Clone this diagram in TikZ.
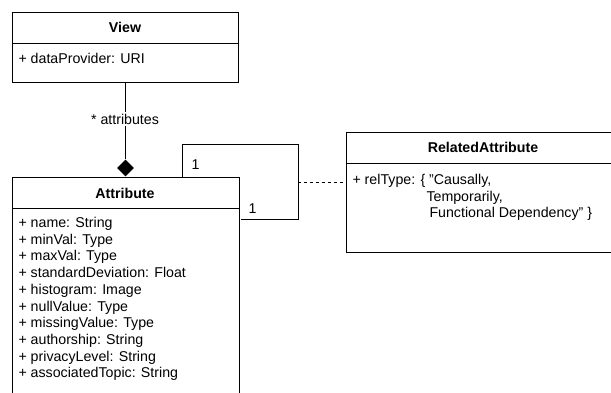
\documentclass[tikz,border=0pt]{standalone}
\usepackage{fontspec}
\setmainfont{Liberation Sans}
\usetikzlibrary{shapes.geometric}
\begin{document}
\begin{tikzpicture}[x=1pt,y=-1pt,
  line width=1pt,
  every node/.style={font=\fontsize{14.2}{16.7}\selectfont, inner sep=0pt},
  boxarea/.style={draw=none, anchor=north west, inner sep=0pt},
  txt/.style={anchor=base west},
  ttl/.style={anchor=base, font=\fontsize{14.2}{16.7}\selectfont\bfseries},
  assoc/.style={draw=black, line width=1pt},
  dep/.style={draw=black, line width=1pt, dash pattern=on 3pt off 3pt}
]
\useasboundingbox[fill=white] (0,0) rectangle (611,392);

% View class
\node[boxarea, draw, minimum width=226pt, minimum height=70pt] (view) at (12,12) {};
\draw ([yshift=-31pt]view.north west) -- ([yshift=-31pt]view.north east);
\node[ttl] (viewT) at (125,32) {View};
\node[txt] (viewA) at (18,63) {+ dataProvider: URI};

% Attribute class
\node[boxarea, minimum width=226pt, minimum height=225pt] (attr) at (12,177) {};
\draw (attr.south west) -- (attr.north west) -- (attr.north east) -- (attr.south east);
\draw ([yshift=-31pt]attr.north west) -- ([yshift=-31pt]attr.north east);
\node[ttl] (attrT) at (125,198) {Attribute};
\foreach \t [count=\i] in {name: String, minVal: Type, maxVal: Type, standardDeviation: Float, histogram: Image, nullValue: Type, missingValue: Type, authorship: String, privacyLevel: String, associatedTopic: String}
  \node[txt] (a\i) at (18,{227.5+(\i-1)*16.7}) {+ \t};

% Composition View -> Attribute
\node[diamond, fill=black, draw=none, inner sep=0pt, minimum width=17pt, minimum height=17pt, anchor=south] (dia) at (attr.north) {};
\draw[assoc] (view.south) -- (dia.north);
\node[fill=white, inner sep=2pt, anchor=base] (lab) at (125,124) {* attributes};

% Self association
\coordinate (l1) at (182,144);
\coordinate (l2) at (298,144);
\coordinate (l3) at (298,219);
\coordinate (lm) at (298,182);
\draw[assoc] (attr.north -| l1) -- (l1) -- (l2) -- (l3) -- ([xshift=2pt]attr.east |- l3);
\node[txt] (m1) at (191,169) {1};
\node[txt] (m2) at (248,213) {1};

% RelatedAttribute class
\node[boxarea, minimum width=274pt, minimum height=119pt] (rel) at (346,132) {};
\draw (rel.north east) -- (rel.north west) -- (rel.south west) -- (rel.south east);
\draw ([yshift=-31pt]rel.north west) -- ([yshift=-31pt]rel.north east);
\node[ttl] (relT) at (483,152.7) {RelatedAttribute};
\node[txt] (r1) at (352,184.5) {+ relType: \{ "Causally,};
\node[txt] (r2) at (426,201) {Temporarily,};
\node[txt] (r3) at (429,217.5) {Functional Dependency" \}};

% Association class link
\draw[dep] (lm) -- (rel.west |- lm);
\end{tikzpicture}
\end{document}
